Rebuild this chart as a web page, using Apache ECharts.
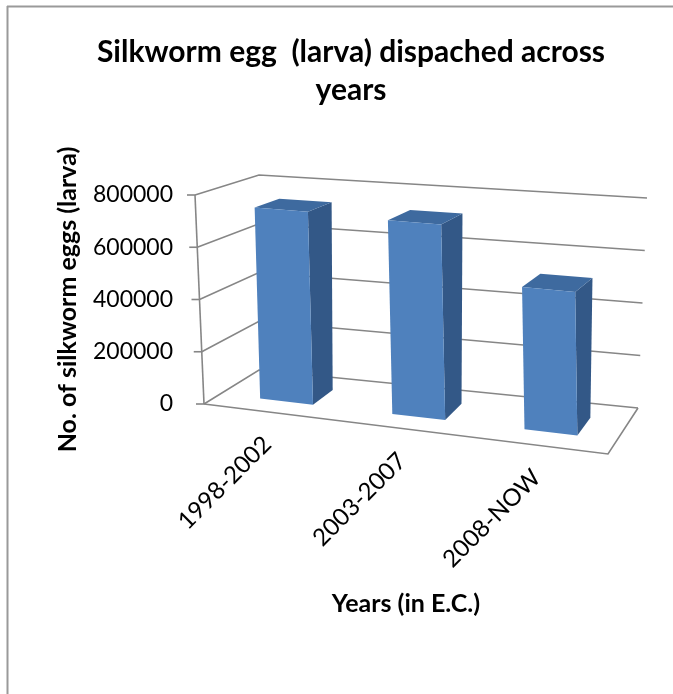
<!DOCTYPE html>
<html>
<head>
<meta charset="utf-8">
<script src="https://cdn.jsdelivr.net/npm/echarts@6/dist/echarts.min.js"></script>
<style>html,body{margin:0;padding:0;background:#fff}#c{width:673px;height:694px}</style>
</head>
<body>
<div id="c"></div>
<script>
// ---- data ----
const categories = ['1998-2002', '2003-2007', '2008-NOW'];
const eggValues = [740000, 732000, 525000];
const yTicks = [0, 200000, 400000, 600000, 800000];
const titleText = 'Silkworm egg  (larva) dispached across\nyears';
const yName = 'No. of silkworm eggs (larva)';
const xName = 'Years (in E.C.)';

// ---- perspective box (layout) ----
const BOX = {
  FL0: [204, 404], FR0: [608, 454], BL0: [259, 370], BR0: [638, 408],
  FL1: [195, 195], FR1: [600, 229], BL1: [259, 175], BR1: [647, 198]
};
const FONT = 'Lato';
const LINE = '#868686';

function lerp(a, b, t) { return [a[0] + (b[0] - a[0]) * t, a[1] + (b[1] - a[1]) * t]; }
function P(u, w, v) {
  const bot = lerp(lerp(BOX.FL0, BOX.FR0, u), lerp(BOX.BL0, BOX.BR0, u), w);
  const top = lerp(lerp(BOX.FL1, BOX.FR1, u), lerp(BOX.BL1, BOX.BR1, u), w);
  return lerp(bot, top, v);
}
function uOf(api, cs, idx) { return (api.coord([idx, 0])[0] - cs.x) / cs.width; }
function vOf(api, cs, val) { return (cs.y + cs.height - api.coord([0, val])[1]) / cs.height; }

const chart = echarts.init(document.getElementById('c'));

function renderGrid(params, api) {
  const cs = params.coordSys;
  const v = vOf(api, cs, api.value(1));
  const ls = { stroke: LINE, lineWidth: 1.6, fill: null };
  const a = P(0, 0, v), b = P(0, 1, v), c = P(1, 1, v);
  const children = [
    { type: 'polyline', shape: { points: [a, b, c] }, style: ls },
    { type: 'line', shape: { x1: a[0] - 8, y1: a[1], x2: a[0], y2: a[1] }, style: ls }
  ];
  if (params.dataIndex === 0) {
    const vmax = vOf(api, cs, yTicks[yTicks.length - 1]);
    const t = P(0, 0, vmax);
    children.push({ type: 'line', shape: { x1: a[0], y1: a[1], x2: t[0], y2: t[1] }, style: ls });
    children.push({ type: 'polyline', shape: { points: [P(0, 0, 0), P(1, 0, 0), P(1, 1, 0)] }, style: ls });
  }
  return { type: 'group', children };
}

function renderBar(params, api) {
  const cs = params.coordSys;
  const idx = api.value(0), val = api.value(1);
  const uc = uOf(api, cs, idx);
  const half = api.size([1, 0])[0] * 0.4 / 2 / cs.width;
  const u1 = uc - half, u2 = uc + half, w1 = 0.3, w2 = 0.7;
  const v = vOf(api, cs, val);
  const front = [P(u1, w1, 0), P(u2, w1, 0), P(u2, w1, v), P(u1, w1, v)];
  const side = [P(u2, w1, 0), P(u2, w2, 0), P(u2, w2, v), P(u2, w1, v)];
  const top = [P(u1, w1, v), P(u2, w1, v), P(u2, w2, v), P(u1, w2, v)];
  return {
    type: 'group', children: [
      { type: 'polygon', shape: { points: side }, style: { fill: '#335887' } },
      { type: 'polygon', shape: { points: top }, style: { fill: '#3E6A9F' } },
      { type: 'polygon', shape: { points: front }, style: { fill: '#4F81BD' } }
    ]
  };
}

function renderXLabel(params, api) {
  const cs = params.coordSys;
  const uc = uOf(api, cs, api.value(0));
  const p = P(uc, 0, 0);
  return {
    type: 'text', x: p[0] - 4, y: p[1] + 28, rotation: Math.PI / 4,
    style: { text: categories[params.dataIndex], font: '24px ' + FONT, fill: '#000', align: 'right', verticalAlign: 'middle' }
  };
}

chart.setOption({
  animation: false,
  backgroundColor: '#fff',
  title: {
    text: titleText, left: 346, top: 28, textAlign: 'center',
    textStyle: { fontFamily: FONT, fontWeight: 'bold', fontSize: 30, lineHeight: 38, color: '#000' }
  },
  grid: { left: 204, top: 195, width: 404, height: 209, outerBoundsMode: 'none' },
  xAxis: {
    type: 'category', data: categories,
    axisLine: { show: false }, axisTick: { show: false }, axisLabel: { show: false }, splitLine: { show: false },
    name: xName, nameLocation: 'middle', nameGap: 187,
    nameTextStyle: { fontFamily: FONT, fontWeight: 'bold', fontSize: 25, color: '#000' }
  },
  yAxis: {
    type: 'value', min: 0, max: 800000, interval: 200000,
    axisLine: { show: false }, axisTick: { show: false }, splitLine: { show: false },
    axisLabel: { margin: 31, fontFamily: FONT, fontSize: 23, color: '#000', formatter: v => String(v) },
    name: yName, nameLocation: 'middle', nameGap: 124, nameRotate: 90,
    nameTextStyle: { fontFamily: FONT, fontWeight: 'bold', fontSize: 25, color: '#000' }
  },
  graphic: [
    { type: 'line', shape: { x1: 7.5, y1: 6, x2: 7.5, y2: 694 }, style: { stroke: '#9a9a9a', lineWidth: 2 } },
    { type: 'line', shape: { x1: 7, y1: 6.5, x2: 673, y2: 6.5 }, style: { stroke: '#9a9a9a', lineWidth: 2 } }
  ],
  series: [
    { type: 'custom', name: 'grid', renderItem: renderGrid, data: yTicks.map(t => [0, t]), silent: true, z: 1 },
    { type: 'custom', name: 'Silkworm eggs', renderItem: renderBar, data: eggValues.map((v, i) => [i, v]), z: 2 },
    { type: 'custom', name: 'labels', renderItem: renderXLabel, data: categories.map((c, i) => [i, 0]), silent: true, z: 3 }
  ]
});
</script>
</body>
</html>
